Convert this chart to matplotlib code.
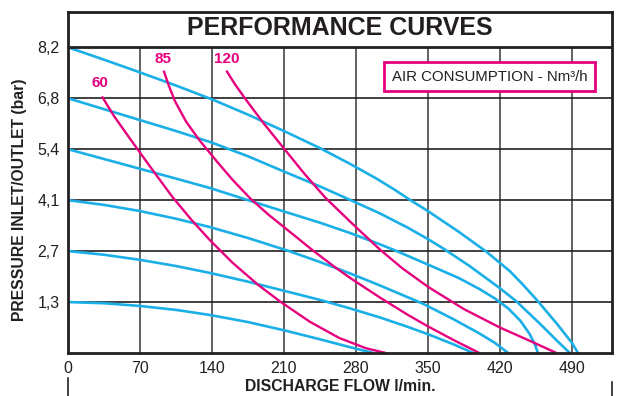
import numpy as np
import matplotlib
matplotlib.use("Agg")
import matplotlib.pyplot as plt
from matplotlib.lines import Line2D

plt.rcParams['font.family'] = ['Liberation Sans', 'DejaVu Sans']

# pressure curves (bar) vs discharge flow (l/min)
flow_82 = [0, 35, 70, 105, 140, 175, 210, 245, 274, 300, 318, 333, 350, 380, 407, 430, 443, 457, 475, 490, 496]
pres_82 = [8.2, 7.86, 7.51, 7.15, 6.77, 6.35, 5.9, 5.43, 5.03, 4.65, 4.36, 4.1, 3.8, 3.23, 2.68, 2.14, 1.76, 1.32, 0.76, 0.26, 0]
flow_68 = [0, 35, 70, 105, 140, 175, 210, 245, 274, 303, 330, 350, 365, 390, 420, 436, 460, 476, 488]
pres_68 = [6.8, 6.5, 6.2, 5.9, 5.58, 5.22, 4.83, 4.45, 4.11, 3.74, 3.35, 3.03, 2.77, 2.3, 1.68, 1.32, 0.72, 0.3, 0]
flow_54 = [0, 35, 70, 105, 138, 175, 210, 245, 274, 303, 318, 350, 380, 400, 415, 428, 440, 449, 454, 457]
pres_54 = [5.4, 5.15, 4.9, 4.65, 4.41, 4.1, 3.79, 3.48, 3.2, 2.89, 2.72, 2.33, 1.96, 1.66, 1.4, 1.14, 0.82, 0.48, 0.22, 0]
flow_41 = [0, 35, 70, 105, 138, 175, 215, 245, 274, 303, 345, 375, 400, 415, 428]
pres_41 = [4.1, 3.97, 3.8, 3.59, 3.36, 3.06, 2.7, 2.4, 2.09, 1.76, 1.26, 0.86, 0.5, 0.26, 0]
flow_27 = [0, 35, 70, 105, 138, 175, 210, 245, 274, 303, 330, 350, 375, 394]
pres_27 = [2.7, 2.6, 2.46, 2.29, 2.1, 1.86, 1.61, 1.36, 1.14, 0.91, 0.67, 0.48, 0.22, 0]
flow_13 = [0, 35, 70, 105, 138, 175, 210, 245, 274, 297]
pres_13 = [1.3, 1.27, 1.2, 1.1, 0.97, 0.79, 0.58, 0.35, 0.15, 0]

# air consumption curves (Nm3/h)
flow_60 = [33, 45, 60, 80, 101, 120, 138, 160, 185, 206, 235, 264, 290, 309]
pres_60 = [6.85, 6.3, 5.7, 4.95, 4.2, 3.56, 3.0, 2.38, 1.77, 1.32, 0.8, 0.38, 0.12, 0]
flow_85 = [93, 98, 104, 115, 128, 145, 160, 177, 195, 210, 238, 260, 274, 303, 330, 350, 375, 400]
pres_85 = [7.56, 7.15, 6.72, 6.15, 5.64, 5.08, 4.62, 4.15, 3.7, 3.36, 2.72, 2.25, 1.97, 1.43, 0.98, 0.68, 0.33, 0]
flow_120 = [154, 162, 172, 190, 210, 230, 250, 274, 303, 325, 350, 385, 420, 450, 475]
pres_120 = [7.56, 7.2, 6.8, 6.12, 5.42, 4.77, 4.17, 3.52, 2.75, 2.23, 1.72, 1.12, 0.65, 0.3, 0]

x_ticks = [0, 70, 140, 210, 280, 350, 420, 490]
y_ticks = [1.3, 2.7, 4.1, 5.4, 6.8, 8.2]
y_labels = ['1,3', '2,7', '4,1', '5,4', '6,8', '8,2']

blue = '#1aafe6'
pink = '#e6007e'
ink = '#231f20'

# the pressure grid is evenly spaced although the values are not
levels = [0, 1.3, 2.7, 4.1, 5.4, 6.8, 8.2, 9.6]
steps = list(range(len(levels)))
def fwd(v):
    return np.interp(v, levels, steps)
def inv(g):
    return np.interp(g, steps, levels)

fig = plt.figure(figsize=(6.18, 3.96), dpi=100)
ax = fig.add_axes([68/618, 1 - 353/396, 544/618, 341/396])
ax.set_yscale('function', functions=(fwd, inv))
ax.set_xlim(0, 529)
ax.set_ylim(0, 9.17)

ax.vlines(x_ticks[1:], 0, 8.2, color='#555555', lw=1.3, zorder=1)
ax.hlines(y_ticks[:-1], 0, 529, color=ink, lw=1.2, zorder=1)
ax.axhline(8.2, color=ink, lw=2, zorder=3)

for f, p in [(flow_82, pres_82), (flow_68, pres_68), (flow_54, pres_54),
             (flow_41, pres_41), (flow_27, pres_27), (flow_13, pres_13)]:
    ax.plot(f, p, color=blue, lw=1.9, solid_capstyle='butt', solid_joinstyle='round', zorder=2)
for f, p in [(flow_60, pres_60), (flow_85, pres_85), (flow_120, pres_120)]:
    ax.plot(f, p, color=pink, lw=1.7, solid_capstyle='butt', solid_joinstyle='round', zorder=2)

ax.text(31, 7.22, '60', color=pink, fontsize=11, fontweight='bold', ha='center', va='center')
ax.text(92, 7.88, '85', color=pink, fontsize=11, fontweight='bold', ha='center', va='center')
ax.text(154, 7.88, '120', color=pink, fontsize=11, fontweight='bold', ha='center', va='center')

ax.text(0.5, 0.953, 'PERFORMANCE CURVES', transform=ax.transAxes, ha='center', va='center',
        fontsize=18, fontweight='bold', color=ink)
ax.text(410, 7.39, 'AIR CONSUMPTION - Nm³/h', ha='center', va='center', fontsize=10.8, color=ink,
        bbox=dict(boxstyle='square,pad=0.5', fc='white', ec=pink, lw=2), zorder=4)

for s in ax.spines.values():
    s.set_linewidth(2)
    s.set_color(ink)

ax.set_xticks(x_ticks)
ax.set_xticklabels([str(v) for v in x_ticks])
ax.set_yticks(y_ticks)
ax.set_yticklabels(y_labels)
ax.minorticks_off()
ax.tick_params(length=0, labelsize=11.5, labelcolor=ink, pad=6)
ax.set_xlabel('DISCHARGE FLOW l/min.', fontsize=11.3, fontweight='bold', color=ink, labelpad=2)
fig.text(20/618, 1 - 200/396, 'PRESSURE INLET/OUTLET (bar)', rotation=90, ha='center', va='center',
         fontsize=11.3, fontweight='bold', color=ink)

fig.add_artist(Line2D([68/618, 68/618], [0, 18/396], color=ink, lw=1.2))
fig.add_artist(Line2D([612/618, 612/618], [0, 14/396], color=ink, lw=1.2))

fig.savefig('out.png', dpi=100)
